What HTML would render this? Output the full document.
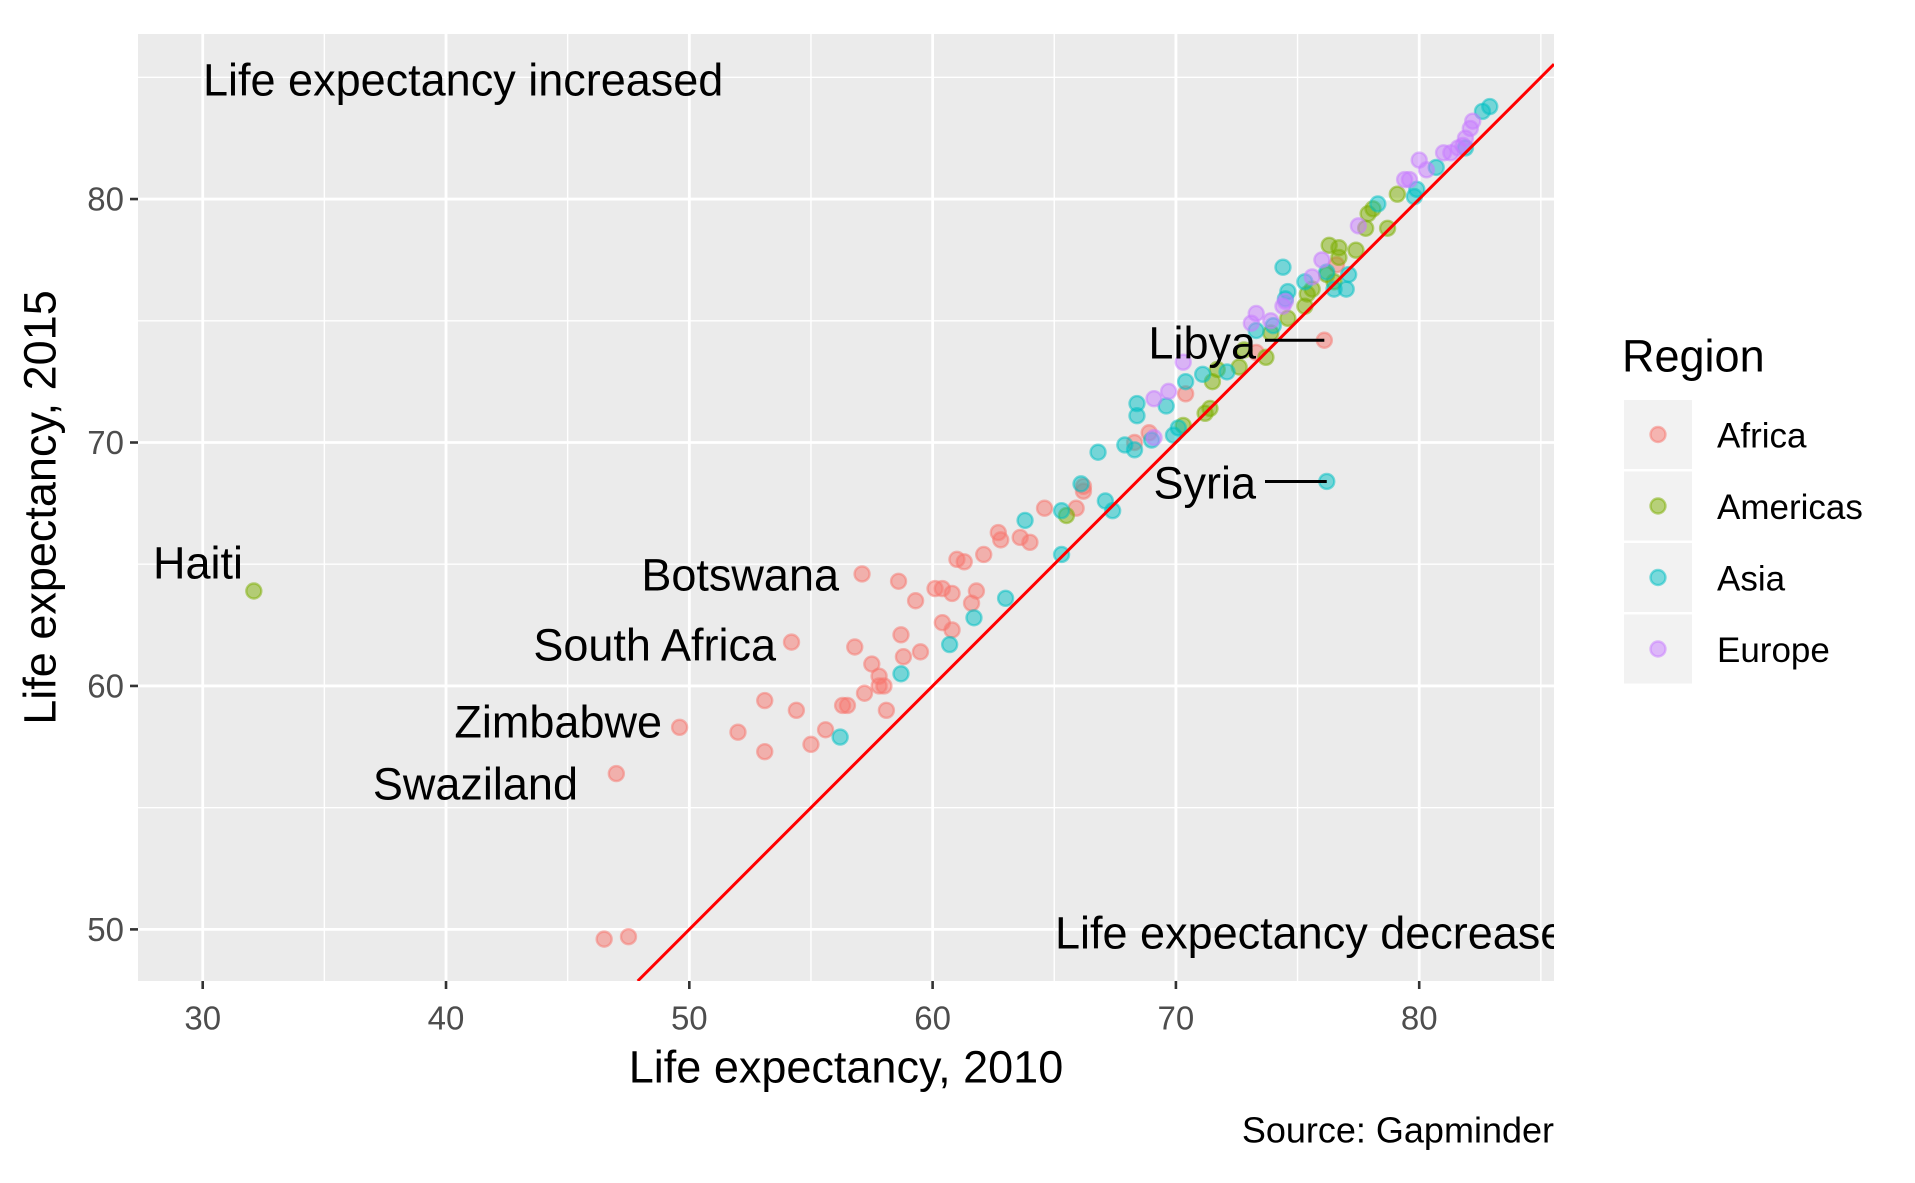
<!DOCTYPE html>
<html><head><meta charset="utf-8"><style>
html,body{margin:0;padding:0;background:#fff}
svg{display:block;font-family:"Liberation Sans",Arial,sans-serif}
</style></head><body>
<svg id="chart" width="1915" height="1183" viewBox="0 0 1915 1183" xmlns="http://www.w3.org/2000/svg"></svg>
<script>
const regions=["Africa","Americas","Asia","Europe"];
const colors=["#F8766D","#7CAE00","#00BFC4","#C77CFF"];
const xTicks=[30,40,50,60,70,80];
const yTicks=[50,60,70,80];
const africaX=[46.5,47.5,47.0,49.6,54.2,57.1,52.0,53.1,53.1,54.4,55.0,55.6,56.3,56.5,56.8,57.2,57.5,57.8,57.8,58.1,58.0,58.6,58.7,58.8,59.3,59.5,60.1,60.4,60.8,60.4,60.8,61.0,61.3,61.6,61.8,62.1,62.7,62.8,63.6,64.0,64.6,65.9,66.2,66.2,68.3,68.9,70.4,76.1,73.3,76.6];
const africaY=[49.6,49.7,56.4,58.3,61.8,64.6,58.1,57.3,59.4,59.0,57.6,58.2,59.2,59.2,61.6,59.7,60.9,60.4,60.0,59.0,60.0,64.3,62.1,61.2,63.5,61.4,64.0,64.0,63.8,62.6,62.3,65.2,65.1,63.4,63.9,65.4,66.3,66.0,66.1,65.9,67.3,67.3,68.2,68.0,70.0,70.4,72.0,74.2,73.7,77.3];
const americasX=[32.1,65.5,70.3,71.4,71.5,71.7,72.6,72.8,73.7,73.9,74.6,75.4,75.6,75.3,76.2,76.3,76.7,76.5,77.4,77.8,77.9,78.1,78.7,79.1,71.2,76.7];
const americasY=[63.9,67.0,70.7,71.4,72.5,73.0,73.1,73.8,73.5,74.5,75.1,76.1,76.3,75.6,76.9,78.1,78.0,76.6,77.9,78.8,79.4,79.6,78.8,80.2,71.2,77.6];
const asiaX=[56.2,58.7,60.7,61.7,63.0,63.8,65.3,65.3,66.1,66.8,67.1,67.4,67.9,68.3,68.4,68.4,69.0,69.6,69.9,70.1,70.4,71.1,76.2,74.4,74.6,74.5,74.0,72.1,75.3,76.2,77.1,76.5,78.3,79.9,79.8,80.7,81.9,82.6,82.9,77.0,73.3];
const asiaY=[57.9,60.5,61.7,62.8,63.6,66.8,65.4,67.2,68.3,69.6,67.6,67.2,69.9,69.7,71.1,71.6,70.1,71.5,70.3,70.6,72.5,72.8,68.4,77.2,76.2,75.9,74.8,72.9,76.6,77.0,76.9,76.3,79.8,80.4,80.1,81.3,82.1,83.6,83.8,76.3,74.6];
const europeX=[69.1,69.1,70.3,69.7,73.1,73.3,73.9,74.4,74.5,75.6,76.0,77.5,79.4,79.6,80.0,80.3,81.0,81.3,81.6,81.9,82.1,82.2,81.8];
const europeY=[70.2,71.8,73.3,72.1,74.9,75.3,75.0,75.6,75.8,76.8,77.5,78.9,80.8,80.8,81.6,81.2,81.9,81.9,82.1,82.5,82.9,83.2,82.2];
const labelNames=["Haiti","Botswana","South Africa","Zimbabwe","Swaziland"];

const NS="http://www.w3.org/2000/svg";
const svg=document.getElementById('chart');
const P={l:138,r:1554,t:34,b:981};
const xMin=27.34,xMax=85.54,yMin=47.88,yMax=86.78;
const X=v=>P.l+(v-xMin)/(xMax-xMin)*(P.r-P.l);
const Y=v=>P.b-(v-yMin)/(yMax-yMin)*(P.b-P.t);
function mk(tag,attrs,parent){const e=document.createElementNS(NS,tag);for(const k in attrs)e.setAttribute(k,attrs[k]);(parent||svg).appendChild(e);return e;}
const defs=mk('defs',{});
const cp=mk('clipPath',{id:'pc'},defs);mk('rect',{x:P.l,y:P.t,width:P.r-P.l,height:P.b-P.t},cp);
const bg=mk('rect',{x:P.l,y:P.t,width:P.r-P.l,height:P.b-P.t,fill:'#EBEBEB'});


const grid=mk('g',{});


for(let v=30;v<=85;v+=5){const major=v%10===0;mk('line',{x1:X(v),x2:X(v),y1:P.t,y2:P.b,stroke:'#fff','stroke-width':major?2.8:1.4},grid);}
for(let v=50;v<=85;v+=5){const major=v%10===0;mk('line',{x1:P.l,x2:P.r,y1:Y(v),y2:Y(v),stroke:'#fff','stroke-width':major?2.8:1.4},grid);}
const clipG=mk('g',{'clip-path':'url(#pc)'});
const series=[[africaX,africaY],[americasX,americasY],[asiaX,asiaY],[europeX,europeY]];
series.forEach((s,i)=>{
  const g=mk('g',{},clipG);
  
  
  s[0].forEach((xv,j)=>{
    const c=mk('circle',{cx:X(xv),cy:Y(s[1][j]),r:7.5,fill:colors[i],'fill-opacity':0.5,stroke:colors[i],'stroke-opacity':0.5,'stroke-width':2.4},g);
    
    
  });
});
const ln=mk('line',{x1:X(yMin),y1:Y(yMin),x2:X(xMax),y2:Y(xMax),stroke:'#FF0000','stroke-width':3},clipG);


function txt(s,x,y,size,anchor,parent,name){const t=mk('text',{x:x,y:y,'font-size':size,'text-anchor':anchor||'start','dominant-baseline':'central',fill:'#000'},parent||svg);t.textContent=s;return t;}
txt('Life expectancy increased',203,80,45,'start',clipG,'annotation-increased');
txt('Life expectancy decreased',1055,933,45,'start',clipG,'annotation-decreased');
const labelPos=[[243,563],[839,575],[776,645],[662,722],[578,784]];
labelNames.forEach((n,i)=>{
  txt(n,labelPos[i][0],labelPos[i][1],45,'end',clipG,'label-'+n.toLowerCase().replace(' ','-'));
});
[['Libya',76.1,74.2,343],['Syria',76.2,68.4,483]].forEach(d=>{
  const seg=mk('line',{x1:1265,x2:X(d[1]),y1:Y(d[2]),y2:Y(d[2]),stroke:'#000','stroke-width':3},clipG);
  
  
  txt(d[0],1256,d[3],45,'end',clipG,'label-'+d[0].toLowerCase());
});
xTicks.forEach(v=>{
  mk('line',{x1:X(v),x2:X(v),y1:P.b,y2:P.b+8,stroke:'#333','stroke-width':2.6});
  txt(String(v),X(v),1018,33,'middle',svg,'x-tick-label').setAttribute('fill','#4D4D4D');
});
yTicks.forEach(v=>{
  mk('line',{x1:P.l-8,x2:P.l,y1:Y(v),y2:Y(v),stroke:'#333','stroke-width':2.6});
  txt(String(v),P.l-14,Y(v),33,'end',svg,'y-tick-label').setAttribute('fill','#4D4D4D');
});
txt('Life expectancy, 2010',(P.l+P.r)/2,1067,45,'middle',svg,'x-axis-title');
const yt=txt('Life expectancy, 2015',0,0,45,'middle',svg,'y-axis-title');
yt.setAttribute('transform','translate(40,'+((P.t+P.b)/2)+') rotate(-90)');
txt('Source: Gapminder',P.r,1130,36,'end',svg,'caption-source');
const lg=mk('g',{});


txt('Region',1622,356,45,'start',lg,'legend-title');
regions.forEach((r,i)=>{
  const y0=400+i*71.5;
  const e=mk('g',{},lg);
  
  
  mk('rect',{x:1624,y:y0,width:68,height:69,fill:'#F2F2F2'},e);
  mk('circle',{cx:1658,cy:y0+34.5,r:7.5,fill:colors[i],'fill-opacity':0.5,stroke:colors[i],'stroke-opacity':0.5,'stroke-width':2.4},e);
  txt(r,1717,y0+36,35,'start',e,'legend-label');
});
</script>
</body></html>
